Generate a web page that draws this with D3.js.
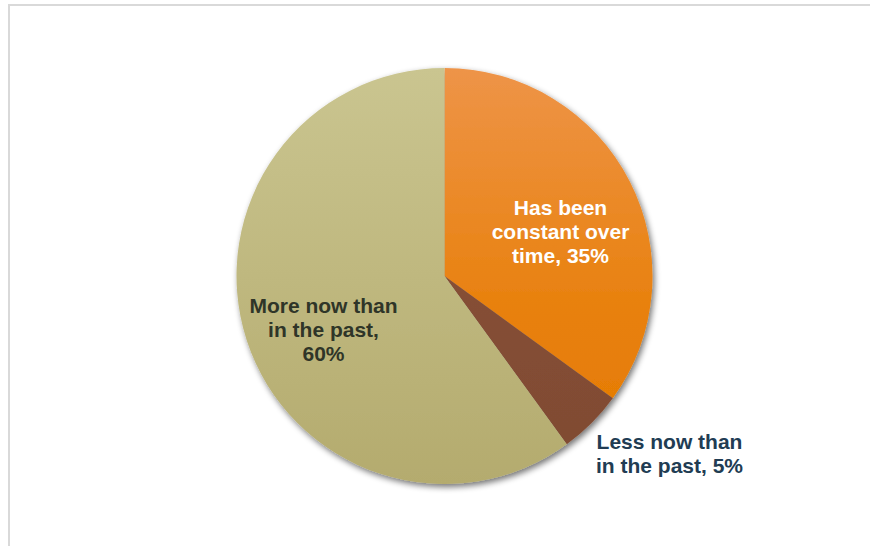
<!DOCTYPE html>
<html>
<head>
<meta charset="utf-8">
<script src="https://cdn.jsdelivr.net/npm/d3@7"></script>
<style>
  html, body { margin: 0; padding: 0; background: #fff; }
  svg { display: block; }
</style>
</head>
<body>
<svg id="chart" width="870" height="546"></svg>
<script>
// Survey answers, clockwise from 12 o'clock
const categories = ["Has been constant over time", "Less now than in the past", "More now than in the past"];
const values = [35, 5, 60];
const labelLines = [
  ["Has been", "constant over", "time, 35%"],
  ["Less now than", "in the past, 5%"],
  ["More now than", "in the past,", "60%"]
];

const W = 870, H = 546;
const cx = 444.5, cy = 276, R = 208;

const svg = d3.select("#chart");
const defs = svg.append("defs");

// Soft drop shadow under the pie
const f = defs.append("filter").attr("id", "shadow")
  .attr("x", "-10%").attr("y", "-10%").attr("width", "120%").attr("height", "120%");
f.append("feGaussianBlur").attr("in", "SourceAlpha").attr("stdDeviation", 3).attr("result", "b");
f.append("feOffset").attr("in", "b").attr("dx", 2).attr("dy", 3).attr("result", "o");
f.append("feComponentTransfer").attr("in", "o").attr("result", "s")
  .append("feFuncA").attr("type", "linear").attr("slope", 0.55);
const m = f.append("feMerge");
m.append("feMergeNode").attr("in", "s");
m.append("feMergeNode").attr("in", "SourceGraphic");

// Vertical gradients, one per slice (coordinates relative to the pie centre)
const gradStops = [
  [["0%", "#EE9448"], ["60%", "#E8800B"], ["100%", "#E47A00"]],
  [["0%", "#8C5439"], ["100%", "#7F4A32"]],
  [["0%", "#CAC590"], ["100%", "#B4AB6E"]]
];
gradStops.forEach((stops, i) => {
  const g = defs.append("linearGradient").attr("id", "g" + i)
    .attr("gradientUnits", "userSpaceOnUse")
    .attr("x1", 0).attr("y1", -R).attr("x2", 0).attr("y2", R);
  stops.forEach(s => g.append("stop").attr("offset", s[0]).attr("stop-color", s[1]));
});

// Chart frame
svg.append("rect")
  .attr("x", 9).attr("y", 5).attr("width", W + 20).attr("height", H + 20)
  .attr("fill", "none").attr("stroke", "#d9d9d9").attr("stroke-width", 2);

const pie = d3.pie().sort(null).value(d => d)(values);
const arc = d3.arc().innerRadius(0).outerRadius(R);

const g = svg.append("g").attr("transform", `translate(${cx},${cy})`);
g.append("g").attr("filter", "url(#shadow)")
  .selectAll("path").data(pie).join("path")
  .attr("d", arc)
  .attr("fill", (d, i) => `url(#g${i})`);

// Labels
const labelPos = [
  { x: 560.5, y: 215, color: "#ffffff" },
  { x: 669.5, y: 449, color: "#213C53" },
  { x: 323.5, y: 313, color: "#2F3528" }
];
const lineH = 24;
labelLines.forEach((lines, i) => {
  const p = labelPos[i];
  const t = svg.append("text")
    .attr("text-anchor", "middle")
    .attr("font-family", "Liberation Sans, Arial, sans-serif")
    .attr("font-weight", "bold")
    .attr("font-size", 21)
    .attr("fill", p.color);
  lines.forEach((ln, j) => {
    t.append("tspan").attr("x", p.x).attr("y", p.y + j * lineH).text(ln);
  });
});
</script>
</body>
</html>
